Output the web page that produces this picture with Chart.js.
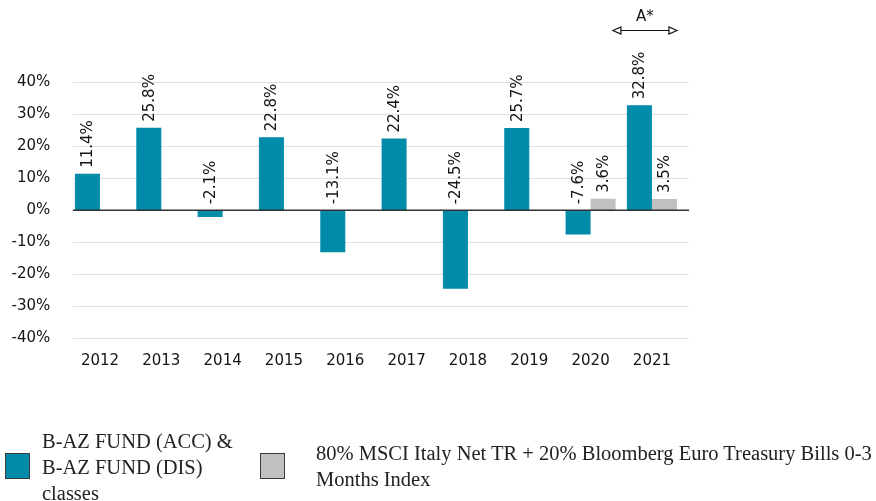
<!DOCTYPE html>
<html>
<head>
<meta charset="utf-8">
<script src="https://cdn.jsdelivr.net/npm/chart.js@4.4.0/dist/chart.umd.min.js"></script>
<style>
  html, body { margin: 0; padding: 0; background: #fff; }
  #wrap { position: relative; width: 876px; height: 501px; overflow: hidden; }
  canvas { position: absolute; left: 0; top: 0; }
  .lg-box { position: absolute; width: 25px; height: 26px; box-sizing: border-box; border: 1px solid #3a3a3a; }
  .lg-text { position: absolute; font-family: "Liberation Serif", "DejaVu Serif", serif; font-size: 20.5px; line-height: 26px; color: #222; }
</style>
</head>
<body>
<div id="wrap">
  <canvas id="c" width="876" height="501"></canvas>
  <div id="legend"></div>
</div>
<script>
const categories = ['2012','2013','2014','2015','2016','2017','2018','2019','2020','2021'];
const fundValues = [11.4, 25.8, -2.1, 22.8, -13.1, 22.4, -24.5, 25.7, -7.6, 32.8];
const benchValues = [null, null, null, null, null, null, null, null, 3.6, 3.5];
const seriesNames = ['B-AZ FUND (ACC) & B-AZ FUND (DIS) classes',
                     '80% MSCI Italy Net TR + 20% Bloomberg Euro Treasury Bills 0-3 Months Index'];
const yTicks = [-40, -30, -20, -10, 0, 10, 20, 30, 40];
const annotationText = 'A*';

const TEAL = '#008ba8';
const GREY = '#c0c0c0';
const TXT = '#141414';
const FONT = '"DejaVu Sans", sans-serif';

const gridPlugin = {
  id: 'customGrid',
  beforeDatasetsDraw(chart) {
    const { ctx, chartArea, scales } = chart;
    const y = scales.y;
    ctx.save();
    ctx.strokeStyle = '#e0e0e0';
    ctx.lineWidth = 1;
    yTicks.forEach(v => {
      if (v === 0) return;
      const py = Math.round(y.getPixelForValue(v)) + 0.5;
      ctx.beginPath();
      ctx.moveTo(chartArea.left + 3.5, py);
      ctx.lineTo(chartArea.right + 6.5, py);
      ctx.stroke();
    });
    ctx.restore();
  },
  afterDatasetsDraw(chart) {
    const { ctx, chartArea, scales } = chart;
    const y = scales.y;
    const py = y.getPixelForValue(0);
    ctx.save();
    ctx.strokeStyle = '#333333';
    ctx.lineWidth = 1.5;
    ctx.beginPath();
    ctx.moveTo(chartArea.left + 3.5, py);
    ctx.lineTo(chartArea.right + 6.5, py);
    ctx.stroke();
    ctx.restore();

    // data labels
    ctx.save();
    ctx.fillStyle = TXT;
    ctx.font = '15px ' + FONT;
    ctx.textAlign = 'left';
    ctx.textBaseline = 'middle';
    chart.data.datasets.forEach((ds, di) => {
      const meta = chart.getDatasetMeta(di);
      meta.data.forEach((el, i) => {
        const v = ds.data[i];
        if (v === null || v === undefined) return;
        const base = v >= 0 ? el.y : py;
        ctx.save();
        ctx.translate(el.x, base - 6);
        ctx.rotate(-Math.PI / 2);
        ctx.fillText(v.toFixed(1) + '%', 0, 1);
        ctx.restore();
      });
    });
    ctx.restore();

    // A* annotation over last category
    const x = scales.x;
    const cx = x.getPixelForValue(categories.length - 1);
    const x1 = cx - 39, x2 = cx + 25, ay = 30.5;
    ctx.save();
    ctx.strokeStyle = '#111';
    ctx.fillStyle = '#fff';
    ctx.lineWidth = 1.2;
    ctx.beginPath();
    ctx.moveTo(x1 + 7, ay); ctx.lineTo(x2 - 7, ay); ctx.stroke();
    [[x1, 1], [x2, -1]].forEach(([px, d]) => {
      ctx.beginPath();
      ctx.moveTo(px, ay);
      ctx.lineTo(px + d * 8, ay - 3.5);
      ctx.lineTo(px + d * 8, ay + 3.5);
      ctx.closePath();
      ctx.fill();
      ctx.stroke();
    });
    ctx.fillStyle = TXT;
    ctx.font = '15px ' + FONT;
    ctx.textAlign = 'center';
    ctx.textBaseline = 'middle';
    ctx.fillText(annotationText, (x1 + x2) / 2, 17);
    ctx.restore();
  }
};

const chart = new Chart(document.getElementById('c'), {
  type: 'bar',
  data: {
    labels: categories,
    datasets: [
      { label: seriesNames[0], data: fundValues, backgroundColor: TEAL, borderWidth: 0 },
      { label: seriesNames[1], data: benchValues, backgroundColor: GREY, borderWidth: 0 }
    ]
  },
  options: {
    responsive: false,
    animation: false,
    devicePixelRatio: 1,
    layout: { padding: { top: 82.3, left: 0, right: 193.4, bottom: 102.7 } },
    datasets: { bar: { categoryPercentage: 0.816, barPercentage: 1.0 } },
    plugins: { legend: { display: false }, tooltip: { enabled: false } },
    scales: {
      x: {
        grid: { display: false, drawTicks: false },
        border: { display: false },
        ticks: { color: TXT, font: { family: FONT, size: 15 }, padding: 14, maxRotation: 0 },
        afterFit(s) { s.height = 60; }
      },
      y: {
        min: -40, max: 40,
        afterBuildTicks(s) { s.ticks = yTicks.map(v => ({ value: v })); },
        grid: { display: false, drawTicks: false },
        border: { display: false },
        ticks: { color: TXT, font: { family: FONT, size: 15 }, padding: 19, callback: v => v + '%' },
        afterFit(s) { s.width = 69.3; }
      }
    }
  },
  plugins: [gridPlugin]
});

// HTML legend built from dataset labels/colours
const legend = document.getElementById('legend');
const legendLayout = [
  { box: [5, 453], text: [42, 428], width: 200 },
  { box: [260, 453], text: [316, 440], width: 572 }
];
chart.data.datasets.forEach((ds, i) => {
  const L = legendLayout[i];
  const b = document.createElement('div');
  b.className = 'lg-box';
  b.style.left = L.box[0] + 'px'; b.style.top = L.box[1] + 'px';
  b.style.background = ds.backgroundColor;
  legend.appendChild(b);
  const t = document.createElement('div');
  t.className = 'lg-text';
  t.style.left = L.text[0] + 'px'; t.style.top = L.text[1] + 'px';
  t.style.width = L.width + 'px';
  t.textContent = ds.label;
  legend.appendChild(t);
});
</script>
</body>
</html>
